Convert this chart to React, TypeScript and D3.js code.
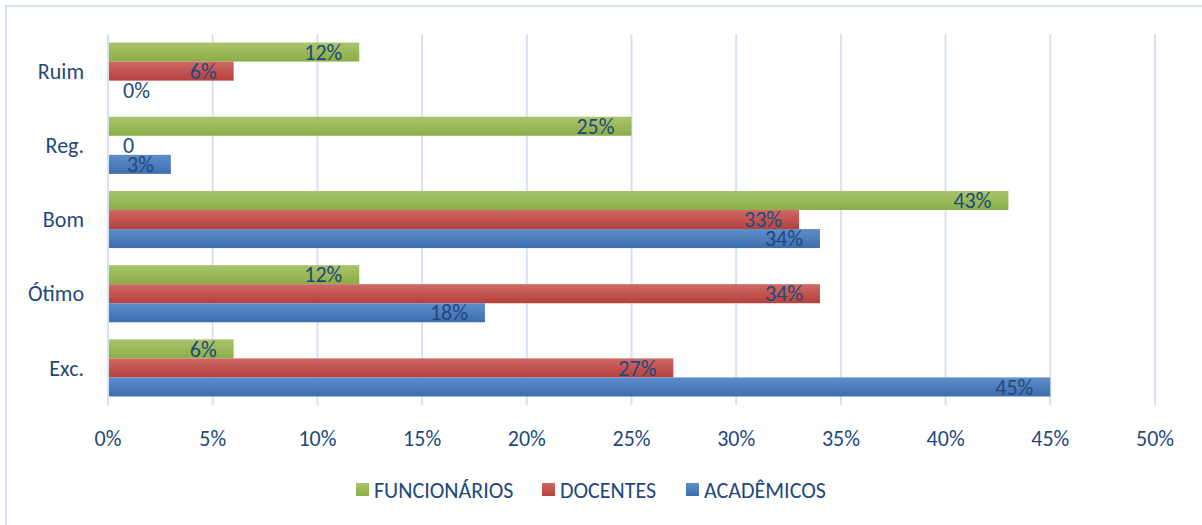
import React from "react";
import * as d3 from "d3";

const categories = ["Ruim", "Reg.", "Bom", "Ótimo", "Exc."];
const seriesNames = ["FUNCIONÁRIOS", "DOCENTES", "ACADÊMICOS"];
const funcionarios = [12, 25, 43, 12, 6];
const docentes = [6, 0, 33, 34, 27];
const academicos = [0, 3, 34, 18, 45];
const docentesLabels = ["6%", "0", "33%", "34%", "27%"];
const xTicks = [0, 5, 10, 15, 20, 25, 30, 35, 40, 45, 50];

const W = 1202;
const H = 525;
const FONT = "Carlito, Calibri, Lato, 'Noto Sans', sans-serif";
const TXT = "#1F497D";
const FS = 22;

const colors = [
  { id: "gG", top: "#A9C46C", bot: "#8BAE46", key: "#9BBB59" },
  { id: "gR", top: "#CE6967", bot: "#B7403C", key: "#C0504D" },
  { id: "gB", top: "#5E8ECA", bot: "#3D6DAD", key: "#4F81BD" },
];

export default function App() {
  const x = d3.scaleLinear().domain([0, 50]).range([108, 1155]);
  const y = d3.scaleBand<string>().domain(categories).range([34, 405]).paddingInner(0.23).paddingOuter(0.115);
  const sub = d3.scaleBand<number>().domain([0, 1, 2]).range([0, y.bandwidth()]);
  const data = [funcionarios, docentes, academicos];
  const labels = [
    funcionarios.map((v) => `${v}%`),
    docentesLabels,
    academicos.map((v) => `${v}%`),
  ];

  return (
    <svg width={W} height={H} style={{ display: "block", position: "absolute", left: 0, top: 0 }}>
      <defs>
        {colors.map((c) => (
          <linearGradient key={c.id} id={c.id} x1="0" y1="0" x2="0" y2="1">
            <stop offset="0" stopColor={c.top} />
            <stop offset="1" stopColor={c.bot} />
          </linearGradient>
        ))}
      </defs>
      <rect x={0} y={0} width={W} height={H} fill="#fff" />
      <rect x={6} y={6} width={W + 20} height={H + 20} fill="none" stroke="#D6E2F2" strokeWidth={2} />
      {xTicks.map((t) => (
        <line key={t} x1={x(t)} x2={x(t)} y1={34} y2={405} stroke="#D6E2F2" strokeWidth={2} />
      ))}
      {categories.map((c, ci) =>
        data.map((s, si) => {
          const v = s[ci];
          const by = (y(c) as number) + (sub(si) as number);
          const bh = sub.bandwidth();
          const x0 = x(0);
          const x1 = x(v);
          const lbl = labels[si][ci];
          return (
            <g key={`${c}-${si}`}>
              {v > 0 && <rect x={x0 + 1} y={by} width={x1 - x0 - 1} height={bh} fill={`url(#${colors[si].id})`} />}
              <text
                x={v > 0 ? x1 - 17 : x0 + 15}
                y={by + bh / 2}
                dy="0.35em"
                textAnchor={v > 0 ? "end" : "start"}
                fontFamily={FONT}
                fontSize={FS}
                fill={TXT}
              >
                {lbl}
              </text>
            </g>
          );
        })
      )}
      {categories.map((c) => (
        <text
          key={c}
          x={84}
          y={(y(c) as number) + y.bandwidth() / 2}
          dy="0.35em"
          textAnchor="end"
          fontFamily={FONT}
          fontSize={FS}
          fill={TXT}
        >
          {c}
        </text>
      ))}
      {xTicks.map((t) => (
        <text key={t} x={x(t)} y={438} dy="0.35em" textAnchor="middle" fontFamily={FONT} fontSize={FS} fill={TXT}>
          {`${t}%`}
        </text>
      ))}
      {[356, 542, 686].map((lx, i) => (
        <g key={i}>
          <rect x={lx} y={483} width={13} height={13} fill={`url(#${colors[i].id})`} />
          <text x={lx + 18} y={490} dy="0.35em" fontFamily={FONT} fontSize={FS} fill={TXT}>
            {seriesNames[i]}
          </text>
        </g>
      ))}
    </svg>
  );
}
